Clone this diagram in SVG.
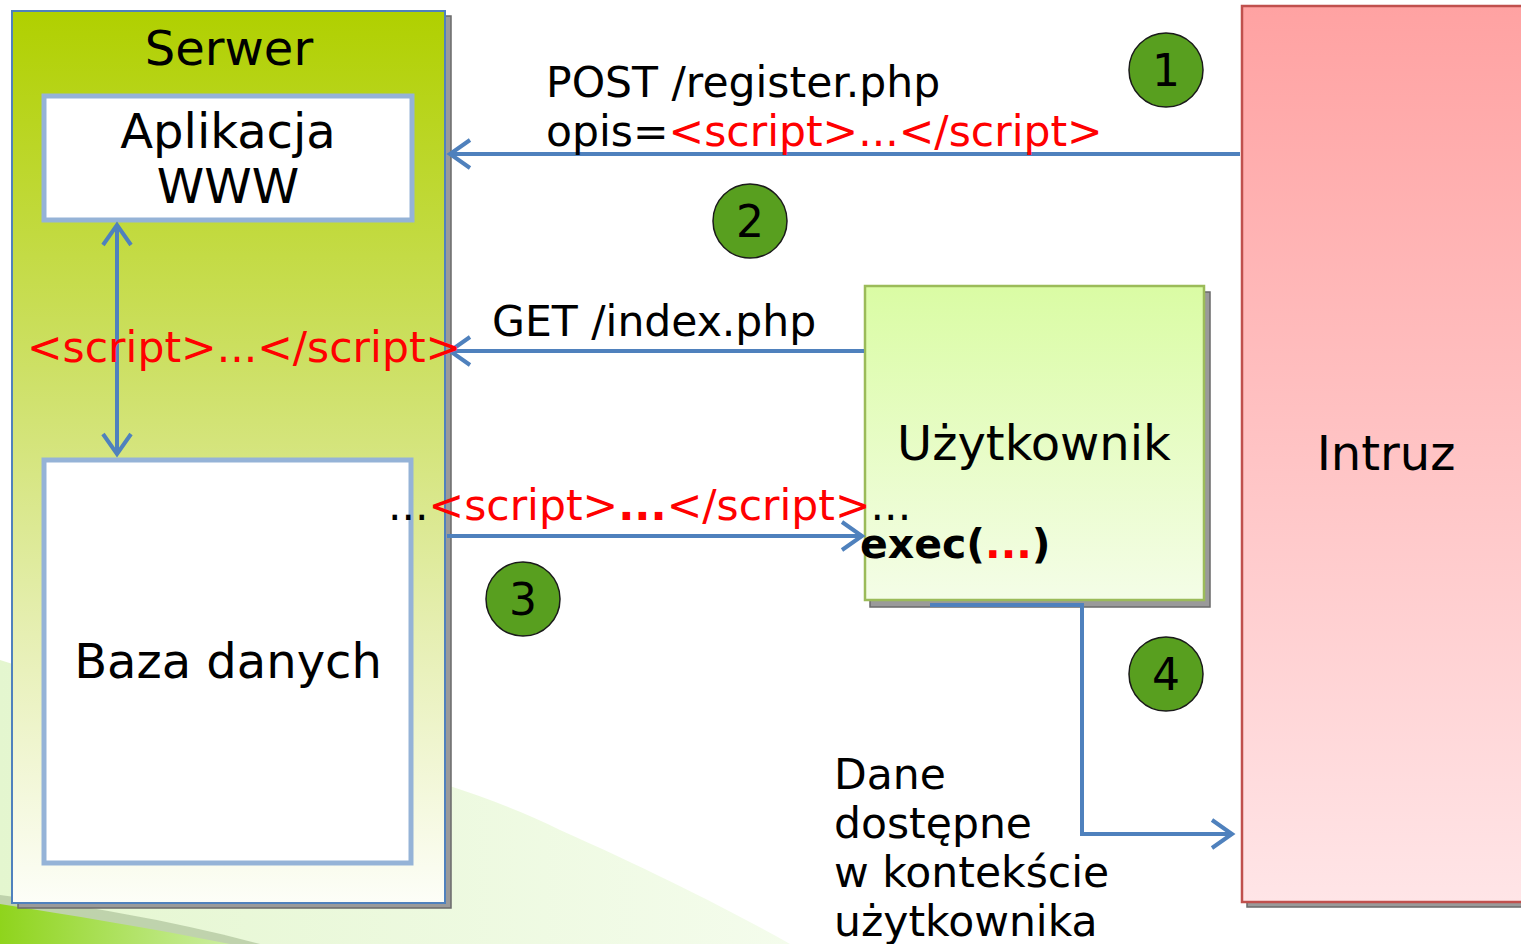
<svg xmlns="http://www.w3.org/2000/svg" width="1521" height="944" viewBox="0 0 1521 944">
<defs>
<linearGradient id="gServer" x1="0" y1="0" x2="0" y2="1">
<stop offset="0" stop-color="#b0d000"/>
<stop offset="0.4" stop-color="#cde065"/>
<stop offset="0.7" stop-color="#e6efb3"/>
<stop offset="1" stop-color="#fdfef8"/>
</linearGradient>
<linearGradient id="gUser" x1="0" y1="0" x2="0" y2="1">
<stop offset="0" stop-color="#dafca4"/>
<stop offset="1" stop-color="#f4fde7"/>
</linearGradient>
<linearGradient id="gIntruz" x1="0" y1="0" x2="0" y2="1">
<stop offset="0" stop-color="#ffa2a2"/>
<stop offset="1" stop-color="#ffe5e7"/>
</linearGradient>
<linearGradient id="gSwoosh" x1="0" y1="0" x2="1" y2="0">
<stop offset="0" stop-color="#e4f6cf"/>
<stop offset="1" stop-color="#f4fcec"/>
</linearGradient>
<linearGradient id="gBright" x1="0" y1="0" x2="1" y2="0">
<stop offset="0" stop-color="#8fd41c"/>
<stop offset="1" stop-color="#cbeea0"/>
</linearGradient>
<marker id="chev" viewBox="-24 -17 28 34" markerWidth="28" markerHeight="34" refX="0" refY="0" orient="auto-start-reverse" markerUnits="userSpaceOnUse">
<path d="M-20,-14 L0,0 L-20,14" fill="none" stroke="#4f81bd" stroke-width="4"/>
</marker>
<style>
.t{font-family:"DejaVu Sans","Liberation Sans",sans-serif;fill:#000}
.big{font-size:48px}
.lbl{font-size:42.5px}
.ex{font-size:41px}
.red{fill:#ff0000}
.b{font-weight:bold}
.conn{fill:none;stroke:#4f81bd;stroke-width:4}
.inner{fill:#fff;stroke:#95b3d7;stroke-width:5}
.shadow{fill:#9a9a9a;stroke:#6a6a6a;stroke-width:1.5}
.badge{fill:#589f1f;stroke:#1a1a1a;stroke-width:1.5}
.num{font-family:"DejaVu Sans","Liberation Sans",sans-serif;font-size:44px;fill:#000;text-anchor:middle}
</style>
</defs>
<rect width="1521" height="944" fill="#fff"/>
<g id="background">
<path d="M0,660 C180,720 420,760 560,830 C650,870 730,910 790,944 L0,944 Z" fill="url(#gSwoosh)"/>
<path d="M0,895 C80,905 170,920 260,944 L0,944 Z" fill="#b5c9a2" opacity="0.8"/>
<path d="M0,904 C70,915 150,928 230,944 L0,944 Z" fill="url(#gBright)"/>
</g>
<g id="serwer">
<rect class="shadow" x="18" y="16" width="433" height="892"/>
<rect x="12" y="11" width="433" height="892" fill="url(#gServer)" stroke="#4f81bd" stroke-width="2"/>
<text class="t big" x="229" y="65" text-anchor="middle">Serwer</text>
</g>
<g id="aplikacja">
<rect class="inner" x="44" y="96" width="368" height="124"/>
<text class="t big" x="228" y="148" text-anchor="middle">Aplikacja</text>
<text class="t big" x="228" y="203" text-anchor="middle">WWW</text>
</g>
<g id="baza">
<rect class="inner" x="44" y="460" width="367" height="403"/>
<text class="t big" x="228" y="678" text-anchor="middle">Baza danych</text>
</g>
<g id="uzytkownik">
<rect class="shadow" x="870" y="292" width="340" height="315"/>
<rect x="865" y="286" width="339" height="314" fill="url(#gUser)" stroke="#9bbb59" stroke-width="2.5"/>
<text class="t big" x="1034" y="460" text-anchor="middle">Użytkownik</text>
</g>
<g id="intruz">
<rect class="shadow" x="1247" y="12" width="290" height="895"/>
<rect x="1242" y="6" width="290" height="896" fill="url(#gIntruz)" stroke="#c0504d" stroke-width="2.5"/>
<text class="t big" x="1386" y="470" text-anchor="middle">Intruz</text>
</g>
<g id="connectors">
<line class="conn" x1="1240" y1="154" x2="450" y2="154" marker-end="url(#chev)"/>
<line class="conn" x1="864" y1="351" x2="450" y2="351" marker-end="url(#chev)"/>
<line class="conn" x1="447" y1="536" x2="862" y2="536" marker-end="url(#chev)"/>
<line class="conn" x1="117" y1="225" x2="117" y2="454" marker-start="url(#chev)" marker-end="url(#chev)"/>
<path class="conn" d="M930,605 H1082 V834 H1232" marker-end="url(#chev)"/>
</g>
<g id="labels">
<text class="t lbl" x="546" y="97">POST /register.php</text>
<text class="t lbl" x="546" y="146">opis=<tspan class="red">&lt;script&gt;...&lt;/script&gt;</tspan></text>
<text class="t lbl" x="492" y="336">GET /index.php</text>
<text class="t lbl red" x="27" y="362">&lt;script&gt;...&lt;/script&gt;</text>
<text class="t lbl" x="388" y="520">...<tspan class="red">&lt;script&gt;</tspan><tspan class="red b">...</tspan><tspan class="red">&lt;/script&gt;</tspan>...</text>
<text class="t ex b" x="860" y="558">exec(<tspan class="red">...</tspan>)</text>
<text class="t lbl" x="834" y="789">Dane</text>
<text class="t lbl" x="834" y="838">dostępne</text>
<text class="t lbl" x="834" y="887">w kontekście</text>
<text class="t lbl" x="834" y="936">użytkownika</text>
</g>
<g id="badge1"><circle class="badge" cx="1166" cy="70" r="37"/><text class="num" x="1166" y="86">1</text></g>
<g id="badge2"><circle class="badge" cx="750" cy="221" r="37"/><text class="num" x="750" y="237">2</text></g>
<g id="badge3"><circle class="badge" cx="523" cy="599" r="37"/><text class="num" x="523" y="615">3</text></g>
<g id="badge4"><circle class="badge" cx="1166" cy="674" r="37"/><text class="num" x="1166" y="690">4</text></g>
</svg>
